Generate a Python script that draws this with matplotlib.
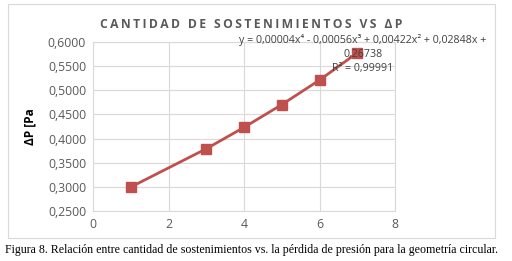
import matplotlib
matplotlib.use("Agg")
import matplotlib.pyplot as plt
from matplotlib.patches import Rectangle

# data
sostenimientos = [1, 3, 4, 5, 6, 7]
delta_p = [0.2996, 0.3789, 0.4232, 0.4703, 0.5211, 0.5775]
y_ticks = [0.25, 0.30, 0.35, 0.40, 0.45, 0.50, 0.55, 0.60]
x_ticks = [0, 2, 4, 6, 8]

W, H = 512, 261
fig = plt.figure(figsize=(W / 100, H / 100), dpi=100)
fig.patch.set_facecolor("white")

def px(x, y):
    return x / W, 1 - y / H

# chart frame
fig.patches.append(Rectangle(px(8, 238), 487 / W, 234 / H, transform=fig.transFigure,
                             fill=False, edgecolor="#D9D9D9", linewidth=0.8))

ax = fig.add_axes([93 / W, 1 - 211 / H, (395 - 93) / W, (211 - 42) / H])
ax.plot(sostenimientos, delta_p, color="#C0504D", linewidth=2.0,
        marker="s", markersize=7.5, zorder=3)
ax.set_xlim(0, 8)
ax.set_ylim(0.25, 0.60)
ax.set_xticks(x_ticks)
ax.set_yticks(y_ticks)
ax.set_xticklabels([str(v) for v in x_ticks])
ax.set_yticklabels([f"{v:.4f}".replace(".", ",") for v in y_ticks])
ax.grid(True, color="#D9D9D9", linewidth=0.8)
ax.set_axisbelow(True)
for s in ax.spines.values():
    s.set_color("#D9D9D9")
    s.set_linewidth(0.8)
ax.tick_params(length=0, labelsize=8.8, colors="#595959", pad=5)
for lab in ax.get_xticklabels() + ax.get_yticklabels():
    lab.set_family("Open Sans")

title = "CANTIDAD DE SOSTENIMIENTOS VS ΔP"
fig.text(251 / W, 1 - 25 / H, "\u2009".join(title), ha="center", va="center",
         fontsize=8.7, fontweight="bold", color="#595959", family="Open Sans")

fig.text(363 / W, 1 - 40 / H, "y = 0,00004x⁴ - 0,00056x³ + 0,00422x² + 0,02848x +",
         ha="center", va="center", fontsize=7.7, color="#404040", family="Open Sans")
fig.text(363 / W, 1 - 54 / H, "0,26738", ha="center", va="center",
         fontsize=7.7, color="#404040", family="Open Sans")
fig.text(363 / W, 1 - 68 / H, "R² = 0,99991", ha="center", va="center",
         fontsize=7.7, color="#404040", family="Open Sans")

fig.text(30 / W, 1 - 127 / H, "ΔP [Pa", rotation=90, ha="center", va="center",
         fontsize=8.5, fontweight="bold", color="black", family="Open Sans")

fig.text(5 / W, 1 - 250 / H,
         "Figura 8. Relación entre cantidad de sostenimientos vs. la pérdida de presión para la geometría circular.",
         ha="left", va="center", fontsize=8.55, color="black", family="Liberation Serif")

fig.savefig("out.png", dpi=100, facecolor="white")
